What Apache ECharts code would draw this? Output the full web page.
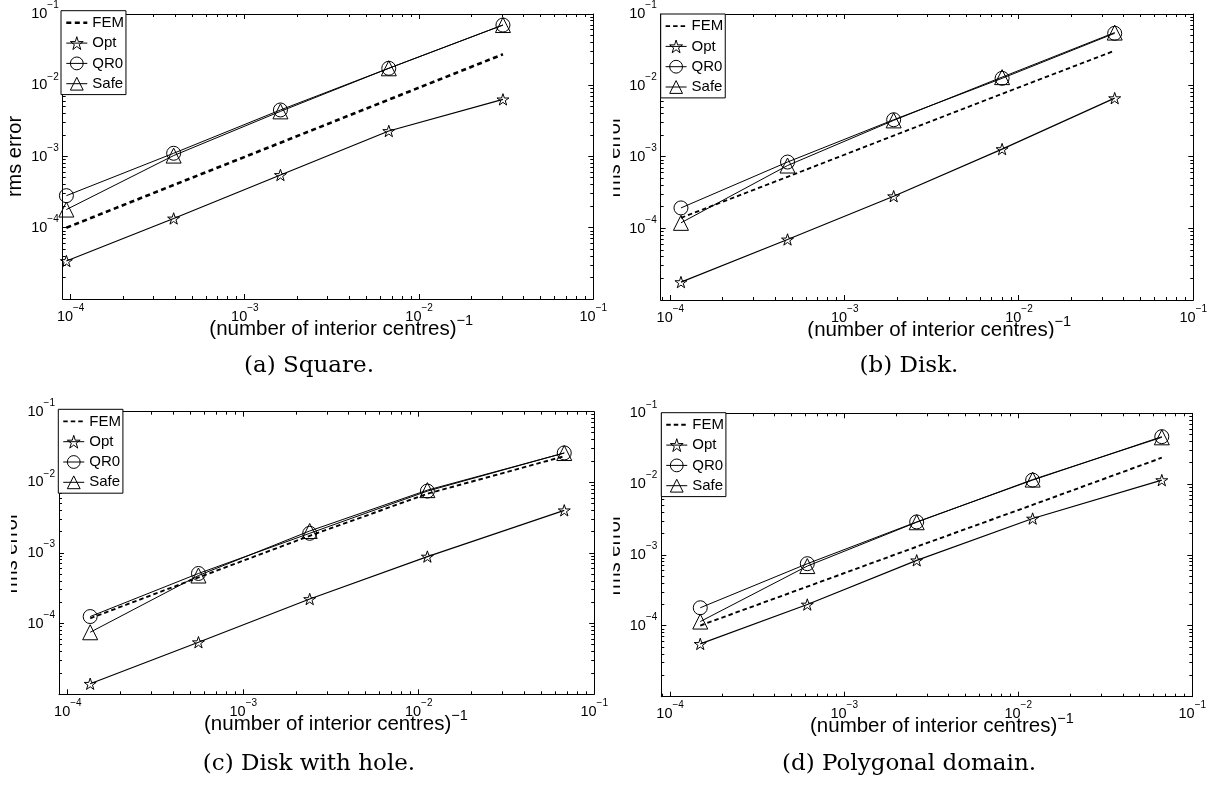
<!DOCTYPE html>
<html><head><meta charset="utf-8">
<script src="https://cdn.jsdelivr.net/npm/echarts@6/dist/echarts.min.js"></script>
<style>html,body{margin:0;padding:0;background:#fff}#c{width:1218px;height:787px}</style>
</head><body><div id="c"></div>
<script>
// ---------------- data ----------------
const seriesNames = ['FEM', 'Opt', 'QR0', 'Safe'];
const xTickValues = [1e-4, 1e-3, 1e-2, 1e-1];
const yTickValues = [1e-4, 1e-3, 1e-2, 1e-1];
const captions = ['(a) Square.', '(b) Disk.', '(c) Disk with hole.', '(d) Polygonal domain.'];
const xAxisTitle = '(number of interior centres)';
const xAxisTitleSup = '\u22121';
const yAxisTitle = 'rms error';

// (a) Square
const xA    = [9.45e-5, 3.9e-4, 1.6e-3, 6.7e-3, 3.03e-2];
const femA  = [1.0e-4, 3.98e-4, 1.56e-3, 6.28e-3, 2.72e-2];
const optA  = [3.41e-5, 1.35e-4, 5.5e-4, 2.28e-3, 6.34e-3];
const qr0A  = [2.82e-4, 1.11e-3, 4.5e-3, 1.73e-2, 7.0e-2];
const safeA = [1.8e-4, 1.03e-3, 4.3e-3, 1.73e-2, 7.0e-2];
// (b) Disk
const xB    = [1.15e-4, 4.7e-4, 1.91e-3, 8.0e-3, 3.54e-2];
const femB  = [1.41e-4, 5.28e-4, 1.99e-3, 7.65e-3, 3.07e-2];
const optB  = [1.78e-5, 7.03e-5, 2.83e-4, 1.29e-3, 6.65e-3];
const qr0B  = [1.94e-4, 8.5e-4, 3.32e-3, 1.26e-2, 5.37e-2];
const safeB = [1.2e-4, 7.6e-4, 3.25e-3, 1.31e-2, 5.5e-2];
// (c) Disk with hole
const xC    = [1.34e-4, 5.55e-4, 2.39e-3, 1.12e-2, 6.75e-2];
const femC  = [1.19e-4, 4.51e-4, 1.75e-3, 6.9e-3, 2.34e-2];
const optC  = [1.41e-5, 5.46e-5, 2.23e-4, 8.9e-4, 4.02e-3];
const qr0C  = [1.26e-4, 5.13e-4, 1.9e-3, 7.52e-3, 2.61e-2];
const safeC = [7.55e-5, 4.8e-4, 2.05e-3, 7.76e-3, 2.6e-2];
// (d) Polygonal domain
const xD    = [1.49e-4, 6.14e-4, 2.61e-3, 1.21e-2, 6.68e-2];
const femD  = [1.01e-4, 3.58e-4, 1.31e-3, 5.1e-3, 2.36e-2];
const optD  = [5.56e-5, 2.0e-4, 8.41e-4, 3.27e-3, 1.14e-2];
const qr0D  = [1.8e-4, 7.54e-4, 2.93e-3, 1.14e-2, 4.68e-2];
const safeD = [1.15e-4, 6.98e-4, 2.9e-3, 1.16e-2, 4.58e-2];

const xMins = [9.0e-5, 8.8e-5, 8.9e-5, 8.9e-5];
const xMax = 1e-1, yMin = 1e-5, yMax = 1e-1;

// ---------------- layout ----------------
const panels = [
  {x: xA, fem: femA, opt: optA, qr0: qr0A, safe: safeA,
   box: {l: 62.7, t: 14, r: 593.3, b: 299}, leg: {l: 61, t: 10.7},
   femW: 2.6, femDash: [5, 3.5], xlabL: 209.3, ylabOff: 47.2, clip: null, xclip: null,
   capX: 309, capY: 366},
  {x: xB, fem: femB, opt: optB, qr0: qr0B, safe: safeB,
   box: {l: 660.7, t: 14, r: 1193.3, b: 300}, leg: {l: 660.7, t: 14},
   femW: 1.8, femDash: [4.5, 3], xlabL: 807.3, ylabOff: 46.5, clip: {x: 596, w: 17.2},
   xclip: {x: 800, y: 338.5, w: 290, h: 8}, capX: 909, capY: 366},
  {x: xC, fem: femC, opt: optC, qr0: qr0C, safe: safeC,
   box: {l: 59, t: 411.7, r: 594.2, b: 694.3}, leg: {l: 58.3, t: 409.3},
   femW: 1.9, femDash: [4.5, 3], xlabL: 204, ylabOff: 47.5, clip: {x: 0, w: 11},
   xclip: {x: 195, y: 736.7, w: 290, h: 8}, capX: 309, capY: 764},
  {x: xD, fem: femD, opt: optD, qr0: qr0D, safe: safeD,
   box: {l: 661.3, t: 413.3, r: 1192.3, b: 696.7}, leg: {l: 661.3, t: 412.7},
   femW: 1.9, femDash: [4.5, 3], xlabL: 810, ylabOff: 46.5, clip: {x: 596, w: 17.3},
   xclip: null, capX: 909, capY: 764}
];

const SANS = '"Liberation Sans", Arial, Helvetica, sans-serif';
const SERIF = '"DejaVu Serif", "Liberation Serif", serif';

function starPath() {
  let d = '';
  for (let k = 0; k < 10; k++) {
    const r = k % 2 === 0 ? 50 : 19.1;
    const a = -Math.PI / 2 + k * Math.PI / 5;
    d += (k === 0 ? 'M' : 'L') + (50 + r * Math.cos(a)).toFixed(2) + ',' + (50 + r * Math.sin(a)).toFixed(2) + ' ';
  }
  return 'path://' + d + 'Z';
}
const STAR = starPath();

function powLabel(list) {
  const exps = list.map(v => Math.round(Math.log10(v)));
  return function (v) {
    const e = Math.log10(v), r = Math.round(e);
    if (Math.abs(e - r) > 1e-6 || exps.indexOf(r) < 0) return '';
    return '{b|10}{s|' + (r < 0 ? '\u2212' + (-r) : r) + '}';
  };
}
const labelRich = {
  b: {fontSize: 14.5, fontFamily: SANS, lineHeight: 27, color: '#000'},
  s: {fontSize: 10, fontFamily: SANS, height: 10, verticalAlign: 'top', color: '#000'}
};

const grids = [], xAxes = [], yAxes = [], series = [], legends = [];
const transparent = 'rgba(0,0,0,0)';
const markStyle = {color: transparent, borderColor: '#000', borderWidth: 1};
panels.forEach((p, i) => {
  const B = p.box;
  grids.push({left: B.l, top: B.t, width: B.r - B.l, height: B.b - B.t,
              containLabel: false, outerBoundsMode: 'none', show: false});
  const axLine = {show: true, onZero: false, lineStyle: {color: '#000', width: 1}};
  xAxes.push({type: 'log', logBase: 10, gridIndex: i, min: xMins[i], max: xMax, position: 'bottom',
    axisLine: axLine, axisTick: {show: false}, splitLine: {show: false},
    axisLabel: {formatter: powLabel(xTickValues), rich: labelRich, margin: 4, color: '#000'}});
  xAxes.push({type: 'log', logBase: 10, gridIndex: i, min: xMins[i], max: xMax, position: 'top',
    axisLine: axLine, axisTick: {show: false}, splitLine: {show: false}, axisLabel: {show: false}});
  yAxes.push({type: 'log', logBase: 10, gridIndex: i, min: yMin, max: yMax, position: 'left',
    axisLine: axLine, axisTick: {show: false}, splitLine: {show: false},
    axisLabel: {formatter: powLabel(yTickValues), rich: labelRich, margin: 4, color: '#000'}});
  yAxes.push({type: 'log', logBase: 10, gridIndex: i, min: yMin, max: yMax, position: 'right',
    axisLine: axLine, axisTick: {show: false}, splitLine: {show: false}, axisLabel: {show: false}});

  const xi = 2 * i, yi = 2 * i;
  const pts = arr => p.x.map((v, k) => [v, arr[k]]);
  series.push({name: 'FEM', type: 'line', xAxisIndex: xi, yAxisIndex: yi, data: pts(p.fem),
    symbol: 'none', itemStyle: {color: transparent},
    lineStyle: {color: '#000', width: p.femW, type: p.femDash}, z: 3});
  series.push({name: 'Opt', type: 'line', xAxisIndex: xi, yAxisIndex: yi, data: pts(p.opt),
    symbol: STAR, symbolSize: 12, symbolKeepAspect: true, itemStyle: markStyle,
    lineStyle: {color: '#000', width: 1.2}, z: 4});
  series.push({name: 'QR0', type: 'line', xAxisIndex: xi, yAxisIndex: yi, data: pts(p.qr0),
    symbol: 'circle', symbolSize: 14, itemStyle: markStyle,
    lineStyle: {color: '#000', width: 1}, z: 4});
  series.push({name: 'Safe', type: 'line', xAxisIndex: xi, yAxisIndex: yi, data: pts(p.safe),
    symbol: 'triangle', symbolSize: 15, itemStyle: markStyle,
    lineStyle: {color: '#000', width: 1}, z: 4});

  const legLine = {color: '#000', width: 1, type: 'solid'};
  legends.push({show: true, orient: 'vertical', left: p.leg.l, top: p.leg.t,
    data: [
      {name: 'FEM', lineStyle: {color: '#000', width: p.femW, type: p.femDash},
       itemStyle: {color: transparent, borderColor: transparent, borderWidth: 0}},
      {name: 'Opt', lineStyle: legLine, itemStyle: markStyle},
      {name: 'QR0', lineStyle: legLine, itemStyle: markStyle},
      {name: 'Safe', lineStyle: legLine, itemStyle: markStyle}
    ],
    itemWidth: 21, itemHeight: 16, itemGap: 5.3, padding: [4.6, 2, 3.4, 4],
    borderColor: '#000', borderWidth: 1, borderRadius: 0, backgroundColor: '#fff',
    textStyle: {fontFamily: SANS, fontSize: 15, color: '#000'},
    selectedMode: false, z: 10});
});

const chart = echarts.init(document.getElementById('c'), null, {renderer: 'canvas'});
chart.setOption({
  animation: false, backgroundColor: '#fff',
  grid: grids, xAxis: xAxes, yAxis: yAxes, series: series, legend: legends
});

// ---------------- ticks, titles, captions ----------------
const els = [];
function tick(x1, y1, x2, y2) {
  els.push({type: 'line', silent: true, z: 5,
    shape: {x1: x1, y1: y1, x2: x2, y2: y2}, style: {stroke: '#000', lineWidth: 1}});
}
const crisp = v => Math.floor(v) + 0.5;
panels.forEach((p, i) => {
  const B = p.box;
  const top = chart.convertToPixel({yAxisIndex: 2 * i}, yMax);
  const bot = chart.convertToPixel({yAxisIndex: 2 * i}, yMin);
  const left = chart.convertToPixel({xAxisIndex: 2 * i}, xMins[i]);
  const right = chart.convertToPixel({xAxisIndex: 2 * i}, xMax);
  for (let e = -5; e <= -1; e++) {
    for (let m = 1; m <= 9; m++) {
      const v = m * Math.pow(10, e);
      const len = m === 1 ? 5 : 3;
      if (v > xMins[i] * 1.001 && v < xMax * 0.999) {
        const x = crisp(chart.convertToPixel({xAxisIndex: 2 * i}, v));
        tick(x, bot, x, bot - len);
        tick(x, top, x, top + len);
      }
      if (v > yMin * 1.001 && v < yMax * 0.999) {
        const y = crisp(chart.convertToPixel({yAxisIndex: 2 * i}, v));
        tick(left, y, left + len, y);
        tick(right, y, right - len, y);
      }
    }
  }
  // x-axis title
  els.push({type: 'text', silent: true, z: 6, x: p.xlabL, y: B.b + 15,
    style: {text: '{m|' + xAxisTitle + '}{s|' + xAxisTitleSup + '}',
      align: 'left', verticalAlign: 'top', textAlign: 'left', textVerticalAlign: 'top', fill: '#000',
      rich: {m: {fontSize: 20.5, fontFamily: SANS, lineHeight: 30, fill: '#000', color: '#000'},
             s: {fontSize: 14.5, fontFamily: SANS, height: 14, verticalAlign: 'top', fill: '#000', color: '#000'}}}});
  // y-axis title
  els.push({type: 'text', silent: true, z: 6, x: B.l - p.ylabOff, y: (B.t + B.b) / 2, rotation: Math.PI / 2,
    style: {text: yAxisTitle, font: '20px ' + SANS, fill: '#000',
      align: 'center', verticalAlign: 'middle', textAlign: 'center', textVerticalAlign: 'middle'}});
  // caption
  els.push({type: 'text', silent: true, z: 6, x: p.capX, y: p.capY,
    style: {text: captions[i], font: '23px ' + SERIF, fill: '#000',
      align: 'center', verticalAlign: 'middle', textAlign: 'center', textVerticalAlign: 'middle'}});
});
// crop of the axis titles at the sub-figure edges
panels.forEach((p) => {
  const B = p.box, cy = (B.t + B.b) / 2;
  if (p.clip) {
    els.push({type: 'rect', silent: true, z: 100,
      shape: {x: p.clip.x, y: cy - 55, width: p.clip.w, height: 110}, style: {fill: '#fff'}});
  }
  if (p.xclip) {
    els.push({type: 'rect', silent: true, z: 100,
      shape: {x: p.xclip.x, y: p.xclip.y, width: p.xclip.w, height: p.xclip.h}, style: {fill: '#fff'}});
  }
});
chart.setOption({graphic: {elements: els}});
</script>
</body></html>
